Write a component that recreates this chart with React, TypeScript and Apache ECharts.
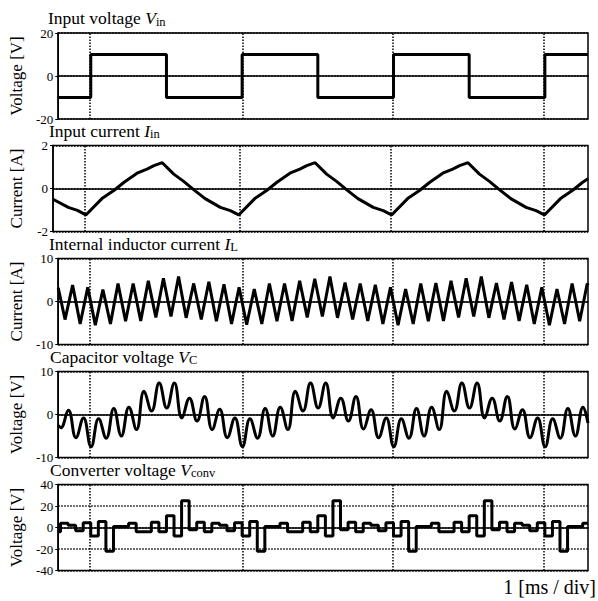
import React, { useEffect, useRef } from "react";
import * as echarts from "echarts";

const FONT = "Liberation Serif";

// time axis in ms (one period of the input voltage = 1 ms)
const xMin = 0;
const xMax = 3.5;
const periodMarks = [0.215, 1.215, 2.215, 3.215];

// Input voltage Vin (step, value holds until next edge)
const vinEdges = [0, 0.215, 0.715, 1.215, 1.715, 2.215, 2.715, 3.215, 3.5];
const vinLevels = [-10, 10, -10, 10, -10, 10, -10, 10, 10];

// Input current Iin
const iinTimes = [
  0, 0.1, 0.16, 0.215, 0.32, 0.4, 0.465, 0.55, 0.615, 0.66, 0.715, 0.79, 0.855, 0.92, 0.995, 1.095, 1.16,
  1.215, 1.32, 1.4, 1.465, 1.55, 1.615, 1.66, 1.715, 1.79, 1.855, 1.92, 1.995, 2.095, 2.16,
  2.215, 2.32, 2.4, 2.465, 2.55, 2.615, 2.66, 2.715, 2.79, 2.855, 2.92, 2.995, 3.095, 3.16,
  3.215, 3.32, 3.4, 3.465, 3.5,
];
const iinValues = [
  -0.5, -0.88, -1.02, -1.23, -0.47, -0.08, 0.29, 0.71, 0.9, 1.06, 1.2, 0.67, 0.33, -0.05, -0.47, -0.88, -1.03,
  -1.23, -0.47, -0.08, 0.29, 0.71, 0.9, 1.06, 1.2, 0.67, 0.33, -0.05, -0.47, -0.88, -1.03,
  -1.23, -0.47, -0.08, 0.29, 0.71, 0.9, 1.06, 1.2, 0.67, 0.33, -0.05, -0.47, -0.88, -1.03,
  -1.23, -0.47, -0.08, 0.29, 0.45,
];

// Internal inductor current IL (triangular ripple, vertices)
const ilTimes = [
  0, 0.045, 0.095, 0.145, 0.195, 0.245, 0.295, 0.345, 0.395, 0.445, 0.495, 0.545, 0.595, 0.645, 0.695, 0.745, 0.795, 0.845, 0.895, 0.945, 0.995,
  1.045, 1.095, 1.145, 1.195, 1.245, 1.295, 1.345, 1.395, 1.445, 1.495, 1.545, 1.595, 1.645, 1.695, 1.745, 1.795, 1.845, 1.895, 1.945, 1.995,
  2.045, 2.095, 2.145, 2.195, 2.245, 2.295, 2.345, 2.395, 2.445, 2.495, 2.545, 2.595, 2.645, 2.695, 2.745, 2.795, 2.845, 2.895, 2.945, 2.995,
  3.045, 3.095, 3.145, 3.195, 3.245, 3.295, 3.345, 3.395, 3.445, 3.495, 3.5,
];
const ilValues = [
  3.2, -4.2, 3.8, -5.2, 3.3, -5.5, 2.8, -5.2, 4.2, -4.6, 4.2, -4.5, 4.8, -3.7, 5.4, -3.5, 5.8, -3.8, 4.2, -4.2, 4.6,
  -4.6, 4.0, -5.2, 3.3, -5.4, 2.9, -5.2, 4.2, -4.6, 4.2, -4.5, 4.8, -3.7, 5.3, -3.5, 5.8, -3.8, 4.4, -4.2, 4.2,
  -4.5, 3.9, -5.2, 3.3, -5.5, 2.9, -5.2, 4.2, -4.6, 4.3, -4.5, 4.8, -3.7, 5.4, -3.5, 5.8, -3.8, 4.3, -4.2, 4.5,
  -4.5, 3.9, -5.2, 3.3, -5.5, 2.9, -5.2, 4.2, -4.6, 4.2, 3.8,
];

// Capacitor voltage VC (smooth ripple, extrema)
const vcTimes = [
  0, 0.017, 0.067, 0.117, 0.167, 0.217, 0.267, 0.317, 0.367, 0.417, 0.467, 0.517, 0.567, 0.617, 0.667, 0.717, 0.767, 0.817, 0.867, 0.917, 0.967,
  1.017, 1.067, 1.117, 1.167, 1.217, 1.267, 1.317, 1.367, 1.417, 1.467, 1.517, 1.567, 1.617, 1.667, 1.717, 1.767, 1.817, 1.867, 1.917, 1.967,
  2.017, 2.067, 2.117, 2.167, 2.217, 2.267, 2.317, 2.367, 2.417, 2.467, 2.517, 2.567, 2.617, 2.667, 2.717, 2.767, 2.817, 2.867, 2.917, 2.967,
  3.017, 3.067, 3.117, 3.167, 3.217, 3.267, 3.317, 3.367, 3.417, 3.467, 3.5,
];
const vcValues = [
  -2.5, -3.1, 1.0, -5.4, -0.8, -7.5, -1.0, -5.5, 1.4, -5.0, 1.7, -3.5, 5.4, 0.8, 7.3, 1.5, 7.3, -0.8, 3.8, -1.5, 4.2,
  -3.5, 1.2, -5.4, -0.8, -7.5, -1.0, -5.5, 1.4, -5.0, 1.7, -3.5, 5.4, 0.8, 7.3, 1.5, 7.3, -0.8, 3.8, -1.5, 4.2,
  -3.4, 1.1, -5.4, -0.8, -7.5, -1.0, -5.5, 1.4, -5.0, 1.7, -3.5, 5.4, 0.8, 7.3, 1.5, 7.3, -0.8, 3.8, -1.5, 4.2,
  -3.4, 1.1, -5.4, -0.8, -7.5, -1.0, -5.5, 1.4, -5.0, 1.7, -2.0,
];

// Converter voltage Vconv (step, value holds until next edge)
const vconvEdges = [
  0, 0.015, 0.065, 0.115, 0.165, 0.215, 0.265, 0.315, 0.365, 0.415, 0.465, 0.515, 0.565, 0.615, 0.665, 0.715, 0.765, 0.815, 0.865, 0.915, 0.965,
  1.015, 1.065, 1.115, 1.165, 1.215, 1.265, 1.315, 1.365, 1.415, 1.465, 1.515, 1.565, 1.615, 1.665, 1.715, 1.765, 1.815, 1.865, 1.915, 1.965,
  2.015, 2.065, 2.115, 2.165, 2.215, 2.265, 2.315, 2.365, 2.415, 2.465, 2.515, 2.565, 2.615, 2.665, 2.715, 2.765, 2.815, 2.865, 2.915, 2.965,
  3.015, 3.065, 3.115, 3.165, 3.215, 3.265, 3.315, 3.365, 3.415, 3.465, 3.5,
];
const vconvLevels = [
  -4, 4, 2, -3, 4.5, -8, 5.5, -22, 1, 1, 4, -4, -4, 5, -4, 11, -8, 25, -2, 5, -4,
  4, 2, -3, 4.5, -8, 5.5, -22, 1, 1, 4, -4, -4, 5, -4, 11, -8, 25, -2, 5, -4,
  4, 2, -3, 4.5, -8, 5.5, -22, 1, 1, 4, -4, -4, 5, -4, 11, -8, 25, -2, 5, -4,
  4, 2, -3, 4.5, -8, 5.5, -22, 1, 1, 4, 4,
];

const panelNames = ["Voltage [V]", "Current [A]", "Current [A]", "Voltage [V]", "Voltage [V]"];
const titleMain = ["Input voltage ", "Input current ", "Internal inductor current ", "Capacitor voltage ", "Converter voltage "];
const titleSym = ["V", "I", "I", "V", "V"];
const titleSub = ["in", "in", "L", "C", "conv"];
const yMins = [-20, -2, -10, -10, -40];
const yMaxs = [20, 2, 10, 10, 40];
const yIntervals = [20, 2, 10, 10, 20];

const pair = (xs: number[], ys: number[]) => xs.map((x, i) => [x, ys[i]]);

export default function App() {
  const ref = useRef<HTMLDivElement>(null);
  useEffect(() => {
    if (!ref.current) return;
    const chart = echarts.init(ref.current, null, { renderer: "svg" });
    const tops = [33, 145.5, 258.5, 371.5, 484.5];
    const h = 86;
    const titleLefts = [48, 49, 49, 50, 50];
    const seriesData = [
      { d: pair(vinEdges, vinLevels), step: "end", smooth: false },
      { d: pair(iinTimes, iinValues), step: false, smooth: false },
      { d: pair(ilTimes, ilValues), step: false, smooth: false },
      { d: pair(vcTimes, vcValues), step: false, smooth: 0.45 },
      { d: pair(vconvEdges, vconvLevels), step: "end", smooth: false },
    ];
    const dotted = { color: "#000", width: 1.5, type: [1.5, 1.5] as any };
    const base = { fontFamily: FONT, color: "#000", fontWeight: "normal" as const };
    const option: any = {
      animation: false,
      backgroundColor: "#fff",
      textStyle: { fontFamily: FONT, color: "#000" },
      title: tops.map((t, i) => ({
        left: titleLefts[i],
        top: t - 25,
        padding: 0,
        text: `{t|${titleMain[i]}}{i|${titleSym[i]}}{s|${titleSub[i]}}`,
        textStyle: {
          fontWeight: "normal",
          rich: {
            t: { ...base, fontSize: 17.5, lineHeight: 20 },
            i: { ...base, fontSize: 17.5, fontStyle: "italic", lineHeight: 20 },
            s: { ...base, fontSize: 12.5, lineHeight: 12, verticalAlign: "bottom" },
          },
        },
      })),
      grid: tops.map((t) => ({
        left: 50,
        right: 10,
        top: t,
        height: h,
        show: true,
        borderColor: "#000",
        borderWidth: 1.5,
        backgroundColor: "transparent",
      })),
      xAxis: tops.map((_, i) => ({
        type: "value",
        gridIndex: i,
        min: xMin,
        max: xMax,
        axisLine: { show: true, lineStyle: { color: "#000", width: 1.5 } },
        axisTick: { show: false },
        axisLabel: { show: false },
        splitLine: { show: false },
      })),
      yAxis: tops.map((_, i) => ({
        type: "value",
        gridIndex: i,
        min: yMins[i],
        max: yMaxs[i],
        interval: yIntervals[i],
        name: panelNames[i],
        nameLocation: "middle",
        nameGap: 28,
        nameTextStyle: { ...base, fontSize: 17 },
        axisLine: { show: true, lineStyle: { color: "#000", width: 1.5 } },
        axisTick: { show: true, length: 3, lineStyle: { color: "#000", width: 1 } },
        axisLabel: { ...base, fontSize: 13, margin: 5 },
        splitLine: { show: true, lineStyle: dotted },
      })),
      series: seriesData.map((s, i) => ({
        type: "line",
        xAxisIndex: i,
        yAxisIndex: i,
        data: s.d,
        step: s.step,
        smooth: s.smooth,
        showSymbol: false,
        symbol: "none",
        lineStyle: { color: "#000", width: 3 },
        markLine: {
          silent: true,
          symbol: ["none", "none"],
          label: { show: false },
          lineStyle: dotted,
          data: periodMarks.map((x) => ({ xAxis: x })),
        },
      })),
      graphic: [
        {
          type: "text",
          right: 2,
          top: 577,
          style: { text: "1 [ms / div]", font: `20px "${FONT}"`, fill: "#000" },
        },
      ],
    };
    chart.setOption(option);
    return () => chart.dispose();
  }, []);
  return (
    <div
      ref={ref}
      style={{ position: "fixed", left: 0, top: 0, width: 598, height: 601, background: "#fff" }}
    />
  );
}
